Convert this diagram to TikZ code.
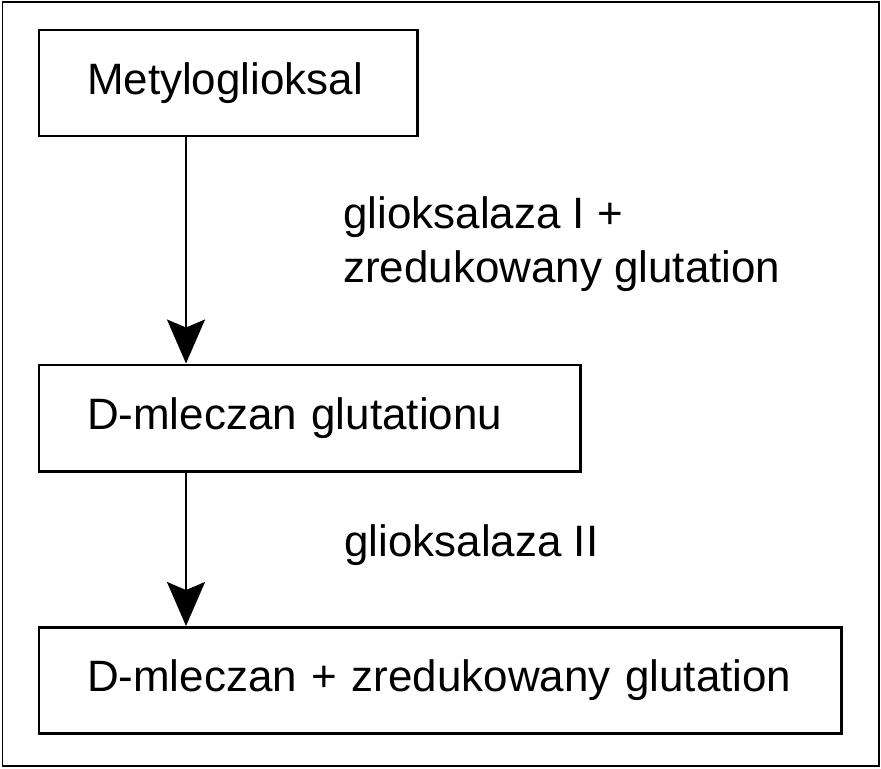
\documentclass[tikz,border=0pt]{standalone}
\usepackage{fontspec}
\setmainfont{Liberation Sans}
\usetikzlibrary{arrows.meta}
\tikzset{>={Stealth[length=0.88cm,width=0.76cm,inset=0.16cm]}}

\begin{document}
\begin{tikzpicture}[
        box/.style={draw=black, line width=1.7pt, minimum height=2.12cm, inner xsep=0.96cm, align=left, font=\fontsize{25pt}{30.7pt}\selectfont},
        lbl/.style={inner sep=0pt, align=left, font=\fontsize{25pt}{30.7pt}\selectfont},
        flow/.style={->, line width=1.2pt, draw=black}]
        \useasboundingbox (0,0) rectangle (17.62,-15.36);
        \draw[draw=black, line width=0.8pt] (0.05,-0.04) rectangle (17.58,-15.32);

        \node[box, text width=5.64cm] (meth) at (4.56,-1.66) {Metyloglioksal};
        \node[box, text width=8.90cm] (dml) at (6.19,-8.36) {D-mleczan glutationu};
        \node[box, text width=14.12cm] (prod) at (8.80,-13.61) {D-mleczan + zredukowany glutation};

        \coordinate (ax) at (3.72,0);
        \draw[flow] (meth.south -| ax) -- (dml.north -| ax);
        \draw[flow] (dml.south -| ax) -- (prod.north -| ax);

        \node[lbl, anchor=north west] (enz1) at (6.86,-3.92) {glioksalaza I +\\zredukowany glutation};
        \node[lbl, anchor=base west] (enz2) at (6.88,-11.13) {glioksalaza II};
    \end{tikzpicture}
\end{document}
